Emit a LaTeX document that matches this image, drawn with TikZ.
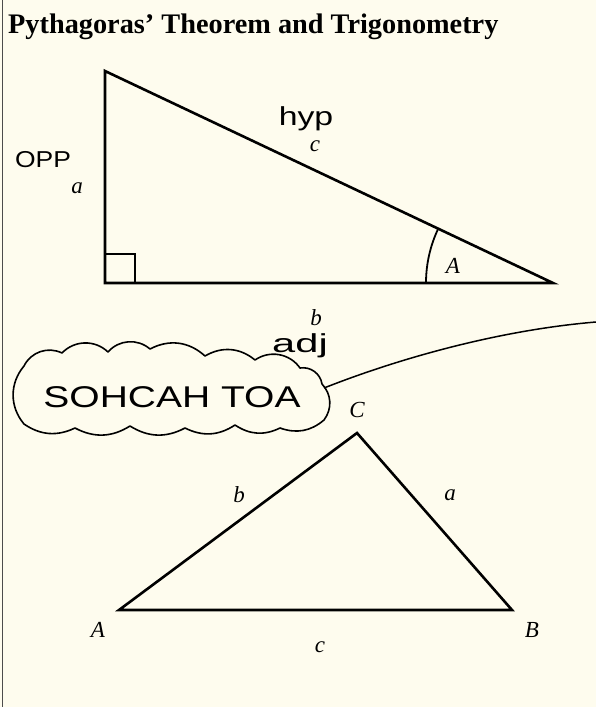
\documentclass[tikz,border=0pt]{standalone}
\usepackage{fontspec}
\setmainfont{Liberation Serif}
\newfontfamily\hand{Liberation Sans}
\definecolor{paper}{RGB}{254,252,238}
\begin{document}
\begin{tikzpicture}[x=1pt,y=-1pt,
  edge/.style={line width=2.6pt, line join=miter},
  thin edge/.style={line width=1.8pt},
  lbl/.style={font=\fontsize{23}{23}\selectfont\itshape, inner sep=0pt},
  hw/.style={font=\hand\fontsize{23}{23}\selectfont, inner sep=0pt},
  cloudline/.style={line width=1.6pt, line join=round, line cap=round}
]
\fill[paper] (0,0) rectangle (596,707);
\useasboundingbox (0,0) rectangle (596,707);
\draw[line width=1.6pt, black!70] (2.5,0) -- (2.5,707);
\node[anchor=base west, inner sep=0pt, font=\bfseries\fontsize{28.3}{28.3}\selectfont] (title) at (8,33) {Pythagoras’ Theorem and Trigonometry};

% right triangle
\coordinate (R) at (105,283);
\coordinate (T) at (105,71);
\coordinate (Q) at (553,283);
\draw[edge] (T) -- (R) -- (Q) -- cycle;
\draw[thin edge] (105,254) -- (135,254) -- (135,283);
\draw[thin edge] (426,283) arc[start angle=180, end angle=205.5, radius=127];
\node[lbl] (lA) at (453,266) {A};
\node[lbl] (la) at (77,188) {a};
\node[lbl] (lc) at (315,146) {c};
\node[hw] (opp) at (43,160) {\scalebox{1.15}[1]{OPP}};
\node[hw, font=\hand\fontsize{26}{26}\selectfont] (hyp) at (306,119) {\scalebox{1.3}[1]{hyp}};
\node[lbl] (lb) at (316,318) {b};
\node[hw, font=\hand\fontsize{26}{26}\selectfont] (adj) at (300,346) {\scalebox{1.6}[1]{adj}};

% cloud
\draw[cloudline] (24,366) to[bend left=45] (62,353) to[bend left=45] (108,352)
  to[bend left=45] (150,349) to[bend left=35] (205,356) to[bend left=35] (255,360)
  to[bend left=45] (300,368) to[bend left=45] (322,384) to[bend left=40] (324,420)
  to[bend left=30] (280,428) to[bend left=30] (235,425) to[bend left=30] (185,428)
  to[bend left=30] (130,426) to[bend left=30] (75,428) to[bend left=30] (24,424)
  to[bend left=40] cycle;
\node[inner sep=0pt, font=\hand\fontsize{30}{30}\selectfont] (soh) at (172,397) {\scalebox{1.3}[1]{SOHCAH TOA}};
\coordinate (cloudE) at (324,388);
\coordinate (lineEnd) at (596,322);
\draw[line width=1.5pt] (cloudE) .. controls (400,358) and (500,330) .. (lineEnd);

% general triangle
\coordinate (A) at (119,610);
\coordinate (B) at (512,610);
\coordinate (C) at (357,433);
\draw[edge] (A) -- (B) -- (C) -- cycle;
\node[lbl] (lblA) at (98,630) {A};
\node[lbl] (lblB) at (532,630) {B};
\node[lbl] (lblC) at (357,410) {C};
\node[lbl] (lblc) at (320,647) {c};
\node[lbl] (lblb) at (239,495) {b};
\node[lbl] (lbla) at (450,495) {a};
\end{tikzpicture}
\end{document}
